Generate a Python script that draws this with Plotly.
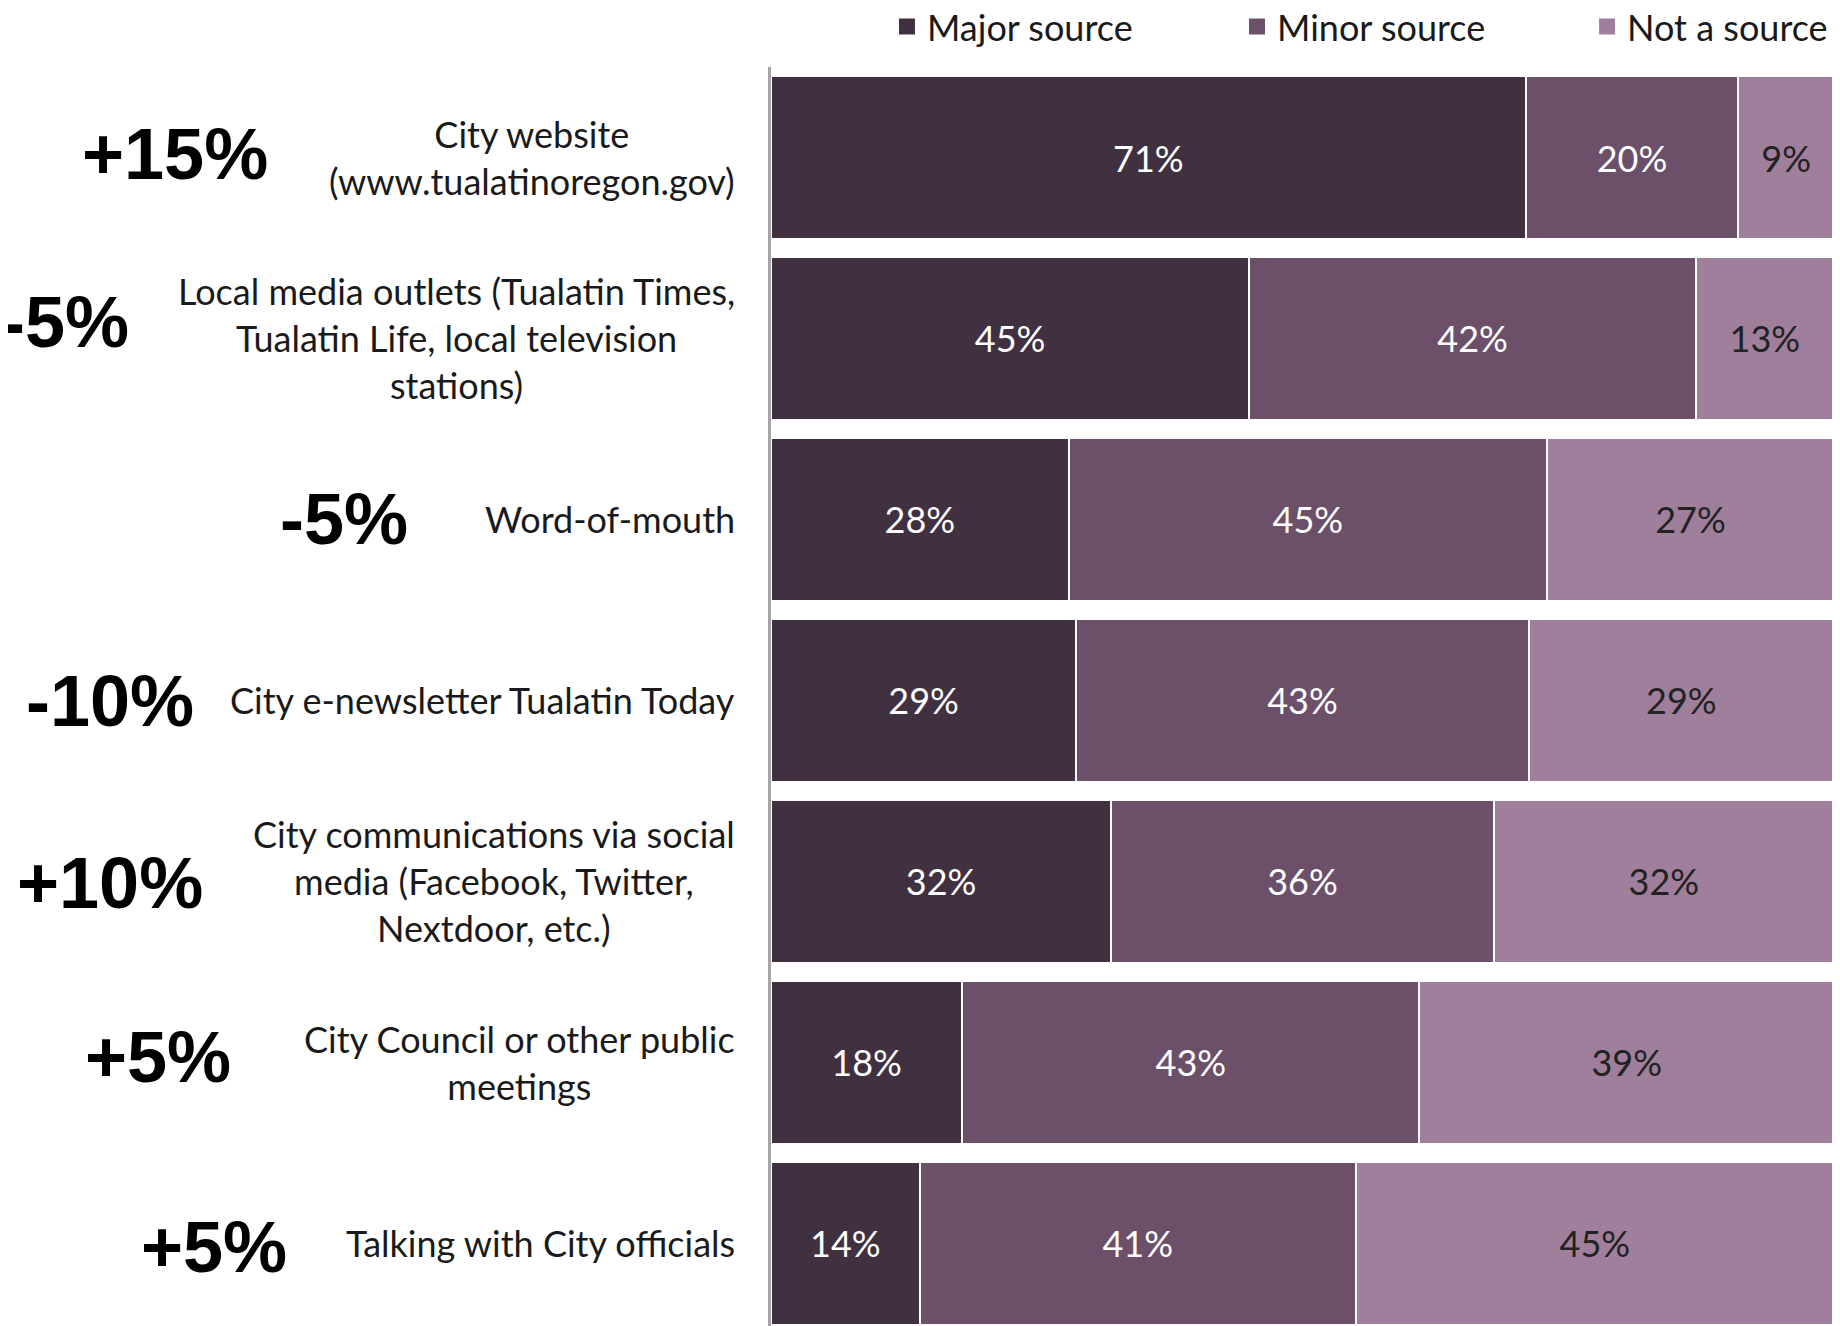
import plotly.graph_objects as go

categories = [
    "City website<br>(www.tualatinoregon.gov)",
    "Local media outlets (Tualatin Times,<br>Tualatin Life, local television<br>stations)",
    "Word-of-mouth",
    "City e-newsletter Tualatin Today",
    "City communications via social<br>media (Facebook, Twitter,<br>Nextdoor, etc.)",
    "City Council or other public<br>meetings",
    "Talking with City officials",
]
major = [71, 45, 28, 29, 32, 18, 14]
minor = [20, 42, 45, 43, 36, 43, 41]
not_source = [9, 13, 27, 29, 32, 39, 45]
changes = ["+15%", "-5%", "-5%", "-10%", "+10%", "+5%", "+5%"]

series = [
    ("Major source", major, "#413040", "white"),
    ("Minor source", minor, "#6C5069", "white"),
    ("Not a source", not_source, "#A07F9C", "#222222"),
]

totals = [a + b + c for a, b, c in zip(major, minor, not_source)]

FONT = "Lato"
BIG = "Liberation Sans"

fig = go.Figure()
for name, vals, color, tcolor in series:
    fig.add_trace(go.Bar(
        name=name,
        y=list(range(len(categories))),
        x=[v / t * 100 for v, t in zip(vals, totals)],
        orientation="h",
        marker=dict(color=color, line=dict(color="white", width=2)),
        text=[f"{v}%" for v in vals],
        textposition="inside",
        insidetextanchor="middle",
        textfont=dict(family=FONT, size=36, color=tcolor),
        hoverinfo="skip",
        showlegend=False,
    ))

# one small legend per series, placed like the reference's legend row
legend_names = ["legend", "legend2", "legend3"]
legend_x = [0.1091, 0.4384, 0.7677]
for (name, vals, color, tcolor), lg in zip(series, legend_names):
    fig.add_trace(go.Scatter(
        name=name, x=[None], y=[None], mode="markers",
        marker=dict(symbol="square", size=16, color=color),
        showlegend=True, hoverinfo="skip", legend=lg,
    ))

# layout positions for annotations (pixel offsets from plot's left edge)
change_xshift = [-501, -640, -361, -575, -566, -538, -482]
change_yshift = [4, 16, 0, -1, -2, 5, -4]

annotations = []
for i, cat in enumerate(categories):
    annotations.append(dict(
        xref="paper", yref="y", x=0, y=i, xanchor="right", yanchor="middle",
        xshift=-34, text=cat, showarrow=False, align="center",
        font=dict(family=FONT, size=36, color="#1a1a1a"),
    ))
    annotations.append(dict(
        xref="paper", yref="y", x=0, y=i, xanchor="right", yanchor="middle",
        xshift=change_xshift[i], yshift=change_yshift[i],
        text=f"<b>{changes[i]}</b>", showarrow=False,
        font=dict(family=BIG, size=72, color="black"),
    ))

legend_style = dict(
    orientation="h", xanchor="left", y=1.032, yanchor="middle",
    font=dict(family=FONT, size=36, color="#1a1a1a"),
    itemclick=False, itemdoubleclick=False, bgcolor="rgba(0,0,0,0)",
)

fig.update_layout(
    width=1840, height=1326,
    margin=dict(l=763, r=14, t=59, b=8, autoexpand=False),
    barmode="stack",
    bargap=0.1,
    plot_bgcolor="white",
    paper_bgcolor="white",
    showlegend=True,
    xaxis=dict(range=[0, 100], showgrid=False, showticklabels=False,
               zeroline=False, showline=False, ticks=""),
    yaxis=dict(range=[6.456, -0.5], showgrid=False, showticklabels=False,
               zeroline=False, showline=True, linecolor="#A6A6A6", linewidth=3,
               ticks=""),
    annotations=annotations,
)
for lg, lx in zip(legend_names, legend_x):
    fig.update_layout({lg: dict(legend_style, x=lx)})

fig.write_html("out.html")
